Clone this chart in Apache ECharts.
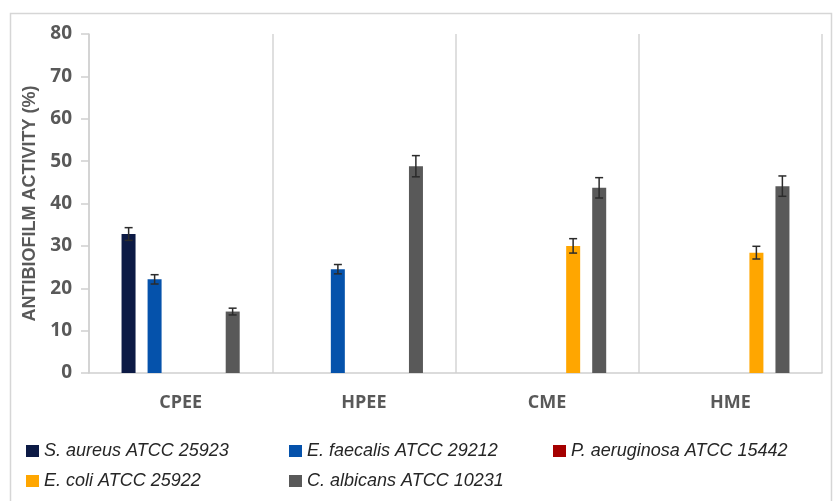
<!DOCTYPE html>
<html><head><meta charset="utf-8">
<script src="https://cdn.jsdelivr.net/npm/echarts@6/dist/echarts.min.js"></script>
<style>html,body{margin:0;padding:0;background:#fff}#c{width:834px;height:501px}</style>
</head><body><div id="c"></div>
<script>
const categories = ['CPEE', 'HPEE', 'CME', 'HME'];
const seriesNames = ['S. aureus ATCC 25923', 'E. faecalis ATCC 29212', 'P. aeruginosa ATCC 15442', 'E. coli ATCC 25922', 'C. albicans ATCC 10231'];
const sAureus = [32.8, null, null, null];
const eFaecalis = [22.1, 24.5, null, null];
const pAeruginosa = [null, null, null, null];
const eColi = [null, null, 30.0, 28.4];
const cAlbicans = [14.5, 48.8, 43.7, 44.1];
const sAureusErr = [1.5, null, null, null];
const eFaecalisErr = [1.1, 1.1, null, null];
const pAeruginosaErr = [null, null, null, null];
const eColiErr = [null, null, 1.7, 1.5];
const cAlbicansErr = [0.8, 2.5, 2.4, 2.4];
const yTicks = [0, 10, 20, 30, 40, 50, 60, 70, 80];

const values = [sAureus, eFaecalis, pAeruginosa, eColi, cAlbicans];
const errors = [sAureusErr, eFaecalisErr, pAeruginosaErr, eColiErr, cAlbicansErr];
const colors = ['#0c1a45', '#0552ab', '#a50000', '#ffa600', '#595959'];
const BAR_W = 14, STEP = 26;

const series = [];
values.forEach((vals, i) => {
  series.push({
    name: seriesNames[i], type: 'bar', data: vals, barWidth: BAR_W, barGap: '86%',
    itemStyle: {color: colors[i]}
  });
});
values.forEach((vals, i) => {
  const d = [];
  vals.forEach((v, k) => { if (v != null && errors[i][k] != null) d.push([k, v - errors[i][k], v + errors[i][k]]); });
  series.push({
    type: 'custom', silent: true, z: 10, data: d,
    renderItem: function (params, api) {
      const lo = api.coord([api.value(0), api.value(1)]);
      const hi = api.coord([api.value(0), api.value(2)]);
      const x = lo[0] + (i - 2) * STEP;
      const cap = 4;
      const st = {stroke: '#2b2b2b', lineWidth: 1.5};
      return {type: 'group', children: [
        {type: 'line', shape: {x1: x, y1: lo[1], x2: x, y2: hi[1]}, style: st},
        {type: 'line', shape: {x1: x - cap, y1: lo[1], x2: x + cap, y2: lo[1]}, style: st},
        {type: 'line', shape: {x1: x - cap, y1: hi[1], x2: x + cap, y2: hi[1]}, style: st}
      ]};
    }
  });
});

const legendFont = {fontFamily: '"Liberation Sans", Arial, sans-serif', fontStyle: 'italic', fontSize: 18, color: '#262626'};
function leg(left, data) {
  return {left: left, top: 442, orient: 'vertical', itemGap: 12, itemWidth: 13, itemHeight: 12, icon: 'rect',
    itemStyle: {borderWidth: 0}, textStyle: legendFont, padding: 0, data: data, selectedMode: false};
}

const chart = echarts.init(document.getElementById('c'), null, {renderer: 'canvas'});
chart.setOption({
  animation: false,
  backgroundColor: '#fff',
  graphic: [{type: 'rect', shape: {x: 10.5, y: 13.5, width: 821, height: 500}, style: {fill: 'none', stroke: '#d6d6d6', lineWidth: 1.5}, silent: true}],
  grid: {left: 89, right: 12, top: 34, bottom: 128},
  legend: [
    leg(26, [seriesNames[0], seriesNames[3]]),
    leg(289, [seriesNames[1], seriesNames[4]]),
    leg(553, [seriesNames[2]])
  ],
  xAxis: {
    type: 'category', data: categories,
    axisLine: {lineStyle: {color: '#d0d0d0', width: 1.5}},
    axisTick: {show: false},
    splitLine: {show: true, lineStyle: {color: '#d4d4d4', width: 1.5}},
    axisLabel: {margin: 21, fontSize: 18, fontWeight: 'bold', color: '#595959', fontFamily: '"Open Sans", "Liberation Sans", Arial, sans-serif'}
  },
  yAxis: {
    type: 'value', min: 0, max: 80, interval: 10,
    name: 'ANTIBIOFILM ACTIVITY (%)', nameLocation: 'middle', nameGap: 50,
    nameTextStyle: {fontSize: 18, fontWeight: 'bold', color: '#595959', fontFamily: '"Liberation Sans", Arial, sans-serif'},
    axisLine: {show: true, lineStyle: {color: '#d0d0d0', width: 1.5}},
    axisTick: {show: true, length: 8, lineStyle: {color: '#d0d0d0', width: 1.5}},
    splitLine: {show: false},
    axisLabel: {margin: 17, fontSize: 19, fontWeight: 'bold', color: '#595959', fontFamily: '"Open Sans", "Liberation Sans", Arial, sans-serif',
      formatter: v => yTicks.includes(v) ? String(v) : ''}
  },
  series: series
});
</script></body></html>
